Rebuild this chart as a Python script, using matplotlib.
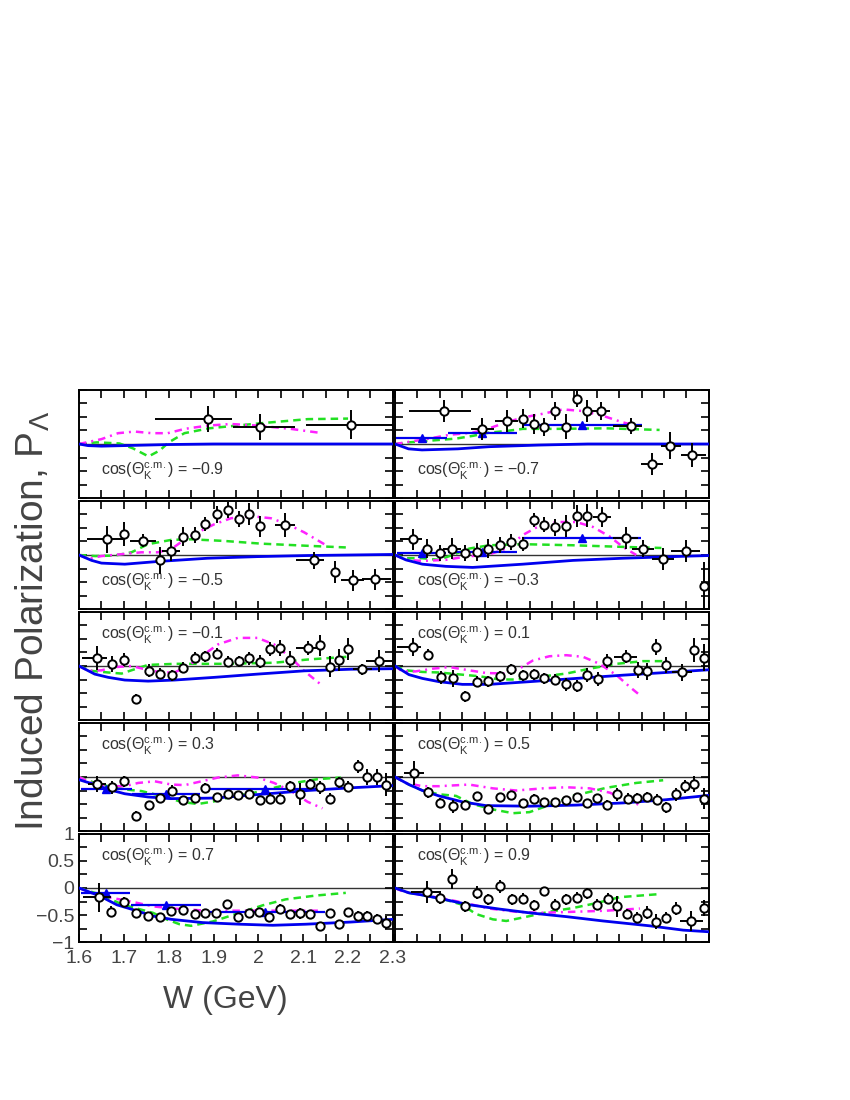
# Induced Lambda polarization vs W, ten cos(theta_K) bins, data + model curves
import numpy as np
import matplotlib
matplotlib.use("Agg")
import matplotlib.pyplot as plt
from matplotlib.ticker import MultipleLocator, FuncFormatter

plt.rcParams['font.family'] = ['Liberation Sans', 'DejaVu Sans']
plt.rcParams['mathtext.fontset'] = 'custom'
plt.rcParams['mathtext.rm'] = 'Liberation Sans'
plt.rcParams['mathtext.it'] = 'Liberation Sans:italic'

cos_bins = ["\u22120.9", "\u22120.7", "\u22120.5", "\u22120.3", "\u22120.1", "0.1", "0.3", "0.5", "0.7", "0.9"]

# data points: (W, P, dP, dW_low, dW_high)
pts_m09 = [(1.887, 0.47, 0.24, 0.118, 0.055), (2.004, 0.32, 0.24, 0.061, 0.078),
           (2.206, 0.36, 0.27, 0.10, 0.10)]
pts_m07 = [(1.71, 0.61, 0.21, 0.078, 0.06), (1.795, 0.28, 0.21, 0.025, 0.025),
           (1.849, 0.43, 0.20, 0.025, 0.025), (1.885, 0.47, 0.18, 0, 0), (1.909, 0.37, 0.18, 0, 0),
           (1.933, 0.31, 0.17, 0, 0), (1.957, 0.61, 0.17, 0, 0), (1.982, 0.32, 0.23, 0, 0),
           (2.006, 0.83, 0.15, 0, 0), (2.029, 0.61, 0.21, 0, 0), (2.06, 0.61, 0.17, 0.02, 0.02),
           (2.126, 0.34, 0.15, 0.04, 0.025), (2.173, -0.37, 0.20, 0.025, 0.025),
           (2.213, -0.03, 0.25, 0.02, 0.025), (2.263, -0.21, 0.22, 0.025, 0.03)]
pts_m05 = [(1.663, 0.29, 0.25, 0.045, 0.035), (1.70, 0.39, 0.22, 0, 0), (1.743, 0.26, 0.12, 0.03, 0.028),
           (1.78, -0.10, 0.25, 0, 0), (1.806, 0.08, 0.20, 0.02, 0.02), (1.832, 0.34, 0.18, 0, 0),
           (1.858, 0.37, 0.15, 0, 0), (1.882, 0.57, 0.13, 0, 0), (1.907, 0.75, 0.15, 0, 0),
           (1.932, 0.83, 0.15, 0, 0), (1.956, 0.67, 0.15, 0, 0), (1.979, 0.76, 0.20, 0, 0),
           (2.004, 0.53, 0.20, 0, 0), (2.059, 0.56, 0.22, 0.022, 0.022), (2.123, -0.10, 0.15, 0.04, 0.024),
           (2.17, -0.32, 0.20, 0, 0), (2.211, -0.47, 0.20, 0.026, 0.024), (2.261, -0.45, 0.20, 0.03, 0.035)]
pts_m03 = [(1.64, 0.29, 0.20, 0.03, 0.02), (1.672, 0.12, 0.18, 0, 0), (1.70, 0.04, 0.15, 0, 0),
           (1.728, 0.12, 0.20, 0.02, 0.02), (1.756, 0.03, 0.15, 0, 0), (1.782, 0.06, 0.17, 0, 0),
           (1.808, 0.12, 0.18, 0, 0), (1.834, 0.18, 0.15, 0, 0), (1.859, 0.24, 0.15, 0, 0),
           (1.885, 0.20, 0.13, 0, 0), (1.909, 0.64, 0.13, 0, 0), (1.933, 0.56, 0.14, 0, 0),
           (1.957, 0.51, 0.15, 0, 0), (1.982, 0.54, 0.20, 0, 0), (2.006, 0.72, 0.20, 0, 0),
           (2.029, 0.73, 0.22, 0, 0), (2.061, 0.70, 0.18, 0.02, 0.02), (2.114, 0.32, 0.20, 0.028, 0.028),
           (2.153, 0.12, 0.15, 0.025, 0.025), (2.198, -0.07, 0.20, 0.025, 0.025),
           (2.25, 0.07, 0.20, 0.035, 0.03), (2.289, -0.58, 0.45, 0, 0)]
pts_m01 = [(1.641, 0.15, 0.22, 0.035, 0.021), (1.673, 0.03, 0.15, 0, 0), (1.70, 0.12, 0.12, 0, 0),
           (1.727, -0.61, 0.10, 0, 0), (1.755, -0.09, 0.12, 0, 0), (1.781, -0.14, 0.10, 0, 0),
           (1.807, -0.17, 0.10, 0, 0), (1.832, -0.03, 0.10, 0, 0), (1.858, 0.15, 0.10, 0, 0),
           (1.882, 0.18, 0.10, 0, 0), (1.907, 0.23, 0.10, 0, 0), (1.932, 0.08, 0.10, 0, 0),
           (1.956, 0.09, 0.10, 0, 0), (1.978, 0.14, 0.12, 0, 0), (2.004, 0.08, 0.12, 0, 0),
           (2.026, 0.31, 0.13, 0, 0), (2.048, 0.34, 0.15, 0, 0), (2.071, 0.12, 0.15, 0, 0),
           (2.11, 0.34, 0.13, 0.026, 0.026), (2.138, 0.38, 0.20, 0, 0), (2.159, -0.01, 0.20, 0, 0),
           (2.18, 0.11, 0.20, 0, 0), (2.20, 0.31, 0.20, 0, 0), (2.232, -0.06, 0.10, 0.022, 0.022),
           (2.269, 0.09, 0.20, 0.03, 0.03)]
pts_p01 = [(1.64, 0.35, 0.17, 0.035, 0.017), (1.674, 0.21, 0.10, 0, 0), (1.702, -0.21, 0.12, 0, 0),
           (1.73, -0.23, 0.15, 0, 0), (1.757, -0.56, 0.10, 0, 0), (1.782, -0.29, 0.10, 0, 0),
           (1.808, -0.28, 0.10, 0, 0), (1.834, -0.19, 0.10, 0, 0), (1.859, -0.06, 0.10, 0, 0),
           (1.885, -0.17, 0.10, 0, 0), (1.909, -0.15, 0.10, 0, 0), (1.933, -0.23, 0.10, 0, 0),
           (1.957, -0.25, 0.10, 0, 0), (1.982, -0.34, 0.12, 0, 0), (2.006, -0.37, 0.12, 0, 0),
           (2.028, -0.17, 0.13, 0, 0), (2.053, -0.24, 0.13, 0, 0), (2.073, 0.10, 0.13, 0, 0),
           (2.114, 0.17, 0.12, 0.026, 0.026), (2.142, -0.08, 0.15, 0, 0), (2.162, -0.10, 0.15, 0, 0),
           (2.183, 0.35, 0.15, 0, 0), (2.205, 0.02, 0.15, 0, 0), (2.24, -0.12, 0.15, 0.022, 0.022),
           (2.267, 0.29, 0.22, 0, 0), (2.289, 0.15, 0.25, 0, 0)]
pts_p03 = [(1.641, -0.13, 0.15, 0.02, 0.02), (1.673, -0.19, 0.12, 0, 0), (1.70, -0.08, 0.10, 0, 0),
           (1.728, -0.72, 0.10, 0, 0), (1.755, -0.52, 0.08, 0, 0), (1.781, -0.39, 0.08, 0, 0),
           (1.807, -0.25, 0.10, 0, 0), (1.832, -0.43, 0.08, 0, 0), (1.858, -0.39, 0.08, 0, 0),
           (1.882, -0.20, 0.08, 0, 0), (1.907, -0.37, 0.08, 0, 0), (1.932, -0.32, 0.08, 0, 0),
           (1.955, -0.34, 0.08, 0, 0), (1.978, -0.32, 0.08, 0, 0), (2.004, -0.43, 0.08, 0, 0),
           (2.026, -0.40, 0.10, 0, 0), (2.048, -0.40, 0.10, 0, 0), (2.071, -0.17, 0.10, 0, 0),
           (2.093, -0.32, 0.20, 0, 0), (2.116, -0.13, 0.10, 0, 0), (2.138, -0.19, 0.12, 0, 0),
           (2.159, -0.40, 0.10, 0, 0), (2.18, -0.10, 0.10, 0, 0), (2.201, -0.18, 0.10, 0, 0),
           (2.223, 0.20, 0.12, 0, 0), (2.243, 0.00, 0.15, 0, 0), (2.264, 0.00, 0.15, 0, 0),
           (2.285, -0.14, 0.22, 0, 0)]
pts_p05 = [(1.643, 0.07, 0.22, 0.022, 0.022), (1.674, -0.28, 0.10, 0, 0), (1.70, -0.48, 0.10, 0, 0),
           (1.73, -0.54, 0.12, 0, 0), (1.757, -0.51, 0.08, 0, 0), (1.782, -0.35, 0.08, 0, 0),
           (1.808, -0.59, 0.08, 0, 0), (1.834, -0.37, 0.08, 0, 0), (1.859, -0.34, 0.08, 0, 0),
           (1.885, -0.48, 0.08, 0, 0), (1.909, -0.40, 0.08, 0, 0), (1.933, -0.46, 0.08, 0, 0),
           (1.957, -0.46, 0.08, 0, 0), (1.982, -0.43, 0.08, 0, 0), (2.006, -0.37, 0.08, 0, 0),
           (2.028, -0.48, 0.08, 0, 0), (2.051, -0.39, 0.08, 0, 0), (2.073, -0.51, 0.08, 0, 0),
           (2.096, -0.32, 0.12, 0, 0), (2.119, -0.40, 0.10, 0, 0), (2.14, -0.39, 0.10, 0, 0),
           (2.162, -0.37, 0.10, 0, 0), (2.184, -0.42, 0.10, 0, 0), (2.205, -0.56, 0.10, 0, 0),
           (2.226, -0.32, 0.12, 0, 0), (2.246, -0.17, 0.12, 0, 0), (2.267, -0.13, 0.15, 0, 0),
           (2.289, -0.40, 0.20, 0, 0)]
pts_p07 = [(1.645, -0.17, 0.27, 0.036, 0.027), (1.672, -0.44, 0.10, 0, 0), (1.70, -0.26, 0.10, 0, 0),
           (1.728, -0.46, 0.08, 0, 0), (1.754, -0.52, 0.06, 0, 0), (1.78, -0.54, 0.06, 0, 0),
           (1.806, -0.42, 0.06, 0, 0), (1.832, -0.40, 0.06, 0, 0), (1.858, -0.49, 0.06, 0, 0),
           (1.882, -0.46, 0.06, 0, 0), (1.906, -0.46, 0.06, 0, 0), (1.93, -0.29, 0.06, 0, 0),
           (1.955, -0.54, 0.06, 0, 0), (1.978, -0.47, 0.06, 0, 0), (2.002, -0.45, 0.06, 0, 0),
           (2.024, -0.54, 0.06, 0, 0), (2.048, -0.38, 0.08, 0, 0), (2.071, -0.49, 0.06, 0, 0),
           (2.093, -0.47, 0.10, 0, 0), (2.115, -0.49, 0.06, 0, 0), (2.138, -0.70, 0.06, 0, 0),
           (2.159, -0.46, 0.06, 0, 0), (2.18, -0.67, 0.08, 0, 0), (2.20, -0.45, 0.06, 0, 0),
           (2.223, -0.51, 0.08, 0, 0), (2.243, -0.51, 0.08, 0, 0), (2.264, -0.57, 0.08, 0, 0),
           (2.285, -0.64, 0.12, 0, 0)]
pts_p09 = [(1.671, -0.07, 0.20, 0.036, 0.028), (1.70, -0.18, 0.12, 0, 0), (1.728, 0.17, 0.18, 0, 0),
           (1.757, -0.34, 0.10, 0, 0), (1.782, -0.09, 0.12, 0, 0), (1.808, -0.21, 0.10, 0, 0),
           (1.834, 0.03, 0.12, 0, 0), (1.86, -0.21, 0.10, 0, 0), (1.885, -0.20, 0.10, 0, 0),
           (1.909, -0.32, 0.10, 0, 0), (1.933, -0.06, 0.06, 0, 0), (1.957, -0.31, 0.10, 0, 0),
           (1.982, -0.21, 0.10, 0, 0), (2.006, -0.18, 0.10, 0, 0), (2.028, -0.10, 0.10, 0, 0),
           (2.051, -0.31, 0.10, 0, 0), (2.075, -0.20, 0.10, 0, 0), (2.096, -0.34, 0.20, 0, 0),
           (2.118, -0.48, 0.10, 0, 0), (2.14, -0.55, 0.10, 0, 0), (2.163, -0.46, 0.12, 0, 0),
           (2.183, -0.62, 0.13, 0, 0), (2.205, -0.55, 0.10, 0, 0), (2.226, -0.38, 0.12, 0, 0),
           (2.261, -0.61, 0.18, 0.026, 0.026), (2.289, -0.37, 0.15, 0, 0)]

# earlier measurement (blue triangles): (W, P, dW)
tri_m07 = [(1.659, 0.12, 0.056), (1.795, 0.20, 0.077), (2.017, 0.35, 0.133)]
tri_m03 = [(1.659, 0.03, 0.054), (1.795, 0.06, 0.076), (2.016, 0.32, 0.133)]
tri_p03 = [(1.661, -0.23, 0.057), (1.793, -0.32, 0.076), (2.015, -0.23, 0.135)]
tri_p07 = [(1.659, -0.09, 0.054), (1.793, -0.31, 0.078), (2.014, -0.44, 0.135)]

# model curves: (W, P)
blue_m09 = [(1.6, 0), (1.62, -0.03), (1.65, -0.04), (1.7, -0.03), (1.75, -0.02), (1.8, -0.01),
            (1.9, 0), (2.0, 0), (2.3, 0)]
green_m09 = [(1.6, 0), (1.64, 0.03), (1.69, 0.01), (1.72, -0.08), (1.755, -0.23), (1.78, -0.12),
             (1.8, 0.03), (1.835, 0.2), (1.89, 0.29), (2.0, 0.38), (2.11, 0.46), (2.2, 0.47)]
mag_m09 = [(1.6, 0), (1.65, 0.09), (1.687, 0.2), (1.724, 0.23), (1.762, 0.2), (1.798, 0.2),
           (1.836, 0.28), (1.887, 0.34), (1.939, 0.37), (1.998, 0.34), (2.072, 0.28), (2.143, 0.2)]

blue_m07 = [(1.6, 0), (1.63, -0.09), (1.66, -0.11), (1.74, -0.09), (1.81, -0.05), (1.92, -0.02),
            (2.03, 0), (2.3, 0)]
green_m07 = [(1.6, 0), (1.631, 0.03), (1.676, 0.06), (1.736, 0.1), (1.773, 0.15), (1.81, 0.21),
             (1.848, 0.24), (1.885, 0.28), (1.96, 0.28), (2.071, 0.29), (2.19, 0.26)]
mag_m07 = [(1.6, 0), (1.639, 0.05), (1.676, 0.1), (1.721, 0.17), (1.773, 0.21), (1.81, 0.29),
           (1.848, 0.4), (1.885, 0.49), (1.93, 0.56), (1.974, 0.64), (2.019, 0.61), (2.064, 0.52),
           (2.108, 0.4), (2.138, 0.34)]

blue_m05 = [(1.6, 0), (1.628, -0.1), (1.65, -0.15), (1.702, -0.17), (1.776, -0.12), (1.887, -0.06),
            (1.998, -0.03), (2.11, -0.01), (2.3, 0.01)]
green_m05 = [(1.6, 0), (1.636, -0.02), (1.68, -0.01), (1.717, 0.05), (1.754, 0.2), (1.806, 0.28),
             (1.85, 0.29), (1.924, 0.26), (2.006, 0.21), (2.11, 0.17), (2.195, 0.14)]
mag_m05 = [(1.6, 0), (1.621, -0.07), (1.65, -0.02), (1.702, 0.02), (1.739, 0.05), (1.776, 0.05),
           (1.806, 0.11), (1.836, 0.29), (1.865, 0.42), (1.902, 0.57), (1.939, 0.68), (1.984, 0.72),
           (2.028, 0.68), (2.065, 0.57), (2.102, 0.42), (2.147, 0.2)]

blue_m03 = [(1.6, 0), (1.624, -0.09), (1.661, -0.17), (1.713, -0.21), (1.773, -0.23), (1.885, -0.17),
            (1.997, -0.1), (2.108, -0.06), (2.258, -0.02), (2.3, -0.01)]
green_m03 = [(1.6, 0), (1.624, -0.06), (1.661, -0.06), (1.698, -0.09), (1.728, 0), (1.766, 0.12),
             (1.81, 0.18), (1.885, 0.2), (1.997, 0.18), (2.108, 0.15), (2.194, 0.13)]
mag_m03 = [(1.6, 0), (1.624, -0.09), (1.661, -0.11), (1.713, -0.09), (1.758, -0.03), (1.81, 0.01),
           (1.848, 0.12), (1.885, 0.37), (1.922, 0.54), (1.96, 0.61), (2.004, 0.61), (2.041, 0.52),
           (2.079, 0.34), (2.108, 0.15), (2.138, 0.0)]

blue_m01 = [(1.6, 0), (1.635, -0.15), (1.665, -0.21), (1.702, -0.26), (1.754, -0.28), (1.813, -0.26),
            (1.902, -0.21), (1.998, -0.15), (2.102, -0.09), (2.206, -0.06), (2.3, -0.05)]
green_m01 = [(1.6, 0), (1.628, -0.09), (1.665, -0.12), (1.695, -0.14), (1.724, -0.06), (1.754, 0.02),
             (1.813, 0.04), (1.924, 0.04), (2.035, 0.06), (2.11, 0.12), (2.198, 0.17)]
mag_m01 = [(1.6, 0), (1.621, -0.09), (1.65, -0.08), (1.68, -0.02), (1.717, 0), (1.747, -0.06),
           (1.784, -0.12), (1.813, -0.12), (1.843, 0), (1.873, 0.18), (1.91, 0.4), (1.954, 0.52),
           (1.998, 0.52), (2.035, 0.4), (2.073, 0.15), (2.102, -0.09), (2.139, -0.34)]

blue_p01 = [(1.6, 0), (1.631, -0.16), (1.661, -0.23), (1.698, -0.29), (1.75, -0.34), (1.81, -0.34),
            (1.9, -0.29), (2.004, -0.23), (2.108, -0.17), (2.205, -0.12), (2.3, -0.07)]
green_p01 = [(1.6, 0), (1.624, -0.08), (1.661, -0.11), (1.698, -0.12), (1.736, -0.15), (1.788, -0.19),
             (1.833, -0.25), (1.87, -0.25), (1.922, -0.2), (1.982, -0.14), (2.034, -0.05),
             (2.094, 0.04), (2.153, 0.09), (2.198, 0.09)]
mag_p01 = [(1.6, 0), (1.616, -0.1), (1.646, -0.1), (1.683, -0.05), (1.721, -0.02), (1.758, -0.07),
           (1.803, -0.13), (1.848, -0.14), (1.877, -0.05), (1.907, 0.1), (1.944, 0.18), (1.982, 0.2),
           (2.019, 0.17), (2.056, 0.04), (2.094, -0.17), (2.124, -0.39), (2.146, -0.54)]

blue_p03 = [(1.6, -0.05), (1.635, -0.14), (1.665, -0.23), (1.702, -0.31), (1.754, -0.37), (1.806, -0.4),
            (1.902, -0.39), (2.006, -0.32), (2.11, -0.25), (2.206, -0.2), (2.3, -0.16)]
green_p03 = [(1.6, 0), (1.635, -0.11), (1.665, -0.17), (1.702, -0.23), (1.739, -0.26), (1.784, -0.35),
             (1.828, -0.46), (1.865, -0.5), (1.902, -0.45), (1.947, -0.35), (1.991, -0.29),
             (2.035, -0.2), (2.08, -0.11), (2.132, -0.04), (2.184, -0.01)]
mag_p03 = [(1.6, 0), (1.628, -0.11), (1.665, -0.17), (1.702, -0.17), (1.732, -0.11), (1.769, -0.08),
           (1.806, -0.14), (1.836, -0.15), (1.873, -0.08), (1.91, -0.01), (1.954, 0.03), (1.998, -0.01),
           (2.035, -0.11), (2.073, -0.26), (2.11, -0.46), (2.143, -0.58)]

blue_p05 = [(1.6, 0), (1.631, -0.14), (1.661, -0.25), (1.698, -0.35), (1.75, -0.46), (1.803, -0.53),
            (1.9, -0.54), (2.004, -0.52), (2.108, -0.48), (2.205, -0.42), (2.3, -0.34)]
green_p05 = [(1.6, 0), (1.631, -0.14), (1.661, -0.25), (1.698, -0.32), (1.736, -0.35), (1.773, -0.5),
             (1.818, -0.6), (1.863, -0.67), (1.9, -0.65), (1.944, -0.52), (1.997, -0.35),
             (2.071, -0.2), (2.138, -0.11), (2.198, -0.06)]
mag_p05 = [(1.6, 0), (1.624, -0.11), (1.661, -0.17), (1.698, -0.17), (1.765, -0.14), (1.818, -0.21),
           (1.87, -0.25), (1.93, -0.21), (1.982, -0.19), (2.034, -0.21), (2.079, -0.29), (2.124, -0.45),
           (2.146, -0.52)]

blue_p07 = [(1.6, 0), (1.647, -0.15), (1.684, -0.31), (1.728, -0.42), (1.765, -0.52), (1.806, -0.58),
            (1.876, -0.64), (1.958, -0.67), (2.032, -0.69), (2.106, -0.67), (2.206, -0.63), (2.3, -0.58)]
green_p07 = [(1.6, 0), (1.647, -0.12), (1.698, -0.31), (1.765, -0.46), (1.795, -0.58), (1.824, -0.67),
             (1.85, -0.7), (1.898, -0.62), (1.958, -0.46), (2.01, -0.32), (2.061, -0.21),
             (2.128, -0.14), (2.195, -0.09)]
mag_p07 = [(1.6, 0), (1.64, -0.13), (1.684, -0.2), (1.721, -0.26), (1.765, -0.34), (1.81, -0.38),
           (1.884, -0.42), (1.958, -0.42), (2.032, -0.42), (2.143, -0.42)]

blue_p09 = [(1.6, 0), (1.631, -0.09), (1.661, -0.13), (1.709, -0.21), (1.765, -0.31), (1.833, -0.39),
            (1.9, -0.46), (1.982, -0.53), (2.064, -0.61), (2.168, -0.7), (2.243, -0.78), (2.3, -0.81)]
green_p09 = [(1.6, 0), (1.631, -0.09), (1.661, -0.13), (1.709, -0.21), (1.75, -0.31), (1.78, -0.48),
             (1.818, -0.58), (1.848, -0.61), (1.9, -0.52), (1.944, -0.44), (1.997, -0.37),
             (2.049, -0.28), (2.101, -0.17), (2.194, -0.11)]
mag_p09 = [(1.6, 0), (1.616, -0.06), (1.661, -0.13), (1.698, -0.18), (1.758, -0.28), (1.81, -0.38),
           (1.87, -0.44), (1.922, -0.46), (1.997, -0.44), (2.071, -0.42), (2.146, -0.38)]

panels = [
    (pts_m09, None, blue_m09, green_m09, mag_m09),
    (pts_m07, tri_m07, blue_m07, green_m07, mag_m07),
    (pts_m05, None, blue_m05, green_m05, mag_m05),
    (pts_m03, tri_m03, blue_m03, green_m03, mag_m03),
    (pts_m01, None, blue_m01, green_m01, mag_m01),
    (pts_p01, None, blue_p01, green_p01, mag_p01),
    (pts_p03, tri_p03, blue_p03, green_p03, mag_p03),
    (pts_p05, None, blue_p05, green_p05, mag_p05),
    (pts_p07, tri_p07, blue_p07, green_p07, mag_p07),
    (pts_p09, None, blue_p09, green_p09, mag_p09),
]

txt_col = '#444444'
fig, axes = plt.subplots(5, 2, figsize=(8.5, 11), dpi=100, sharex=True, sharey=True)
fig.subplots_adjust(left=0.093, right=0.834, top=0.6455, bottom=0.1436, hspace=0.027, wspace=0.007)

fmt = FuncFormatter(lambda v, p: ('%g' % round(v, 2)).replace('-', '\u2212'))

for i, (pts, tri, blue, green, mag) in enumerate(panels):
    ax = axes[i // 2, i % 2]
    ax.set_xlim(1.6, 2.3)
    ax.set_ylim(-1, 1)
    ax.axhline(0, color='#333333', lw=1.0, zorder=1)

    w, p = zip(*green)
    ax.plot(w, p, color='#22e022', lw=1.8, ls=(0, (3, 2)), zorder=2)
    w, p = zip(*mag)
    ax.plot(w, p, color='#ff22ff', lw=1.8, ls=(0, (3, 2, 0.8, 2)), zorder=2)
    w, p = zip(*blue)
    ax.plot(w, p, color='#0000ee', lw=2.0, zorder=3)

    if tri is not None:
        tw, tp, tdw = zip(*tri)
        ax.errorbar(tw, tp, xerr=tdw, fmt='^', color='#0000ee', ms=5.5, elinewidth=1.6,
                    capsize=0, zorder=4)

    W, P, dP, lo, hi = (np.array(c) for c in zip(*pts))
    ax.errorbar(W, P, xerr=[lo, hi], yerr=dP, fmt='o', mfc='white', mec='black', ecolor='black',
                ms=6, mew=1.4, elinewidth=1.4, capsize=0, zorder=5)

    lab = "cos(\u0398$_\\mathrm{K}^\\mathrm{c.\\!m.}$) = " + cos_bins[i]
    ylab = -0.5 if i < 4 else 0.57
    ax.text(1.65, ylab, lab, fontsize=11.5, color='#333333', ha='left', va='center')

    ax.xaxis.set_major_locator(MultipleLocator(0.1))
    ax.xaxis.set_minor_locator(MultipleLocator(0.05))
    ax.yaxis.set_major_locator(MultipleLocator(0.5))
    ax.yaxis.set_minor_locator(MultipleLocator(0.25))
    ax.xaxis.set_major_formatter(fmt)
    ax.yaxis.set_major_formatter(fmt)
    ax.tick_params(which='both', direction='in', top=True, right=True, length=6, width=1.2,
                   labelsize=14, labelcolor=txt_col)
    ax.tick_params(axis='x', pad=6)
    # only the bottom-left panel carries tick labels
    show = (i == 8)
    ax.tick_params(labelleft=show, labelbottom=show)
    for s in ax.spines.values():
        s.set_linewidth(1.4)

fig.text(0.265, 0.091, "W (GeV)", fontsize=23, color=txt_col, ha='center', va='center')
fig.text(0.039, 0.436, "Induced Polarization, P$_\\Lambda$", fontsize=28, color=txt_col,
         rotation=90, ha='center', va='center')

fig.savefig("out.png", dpi=100)
